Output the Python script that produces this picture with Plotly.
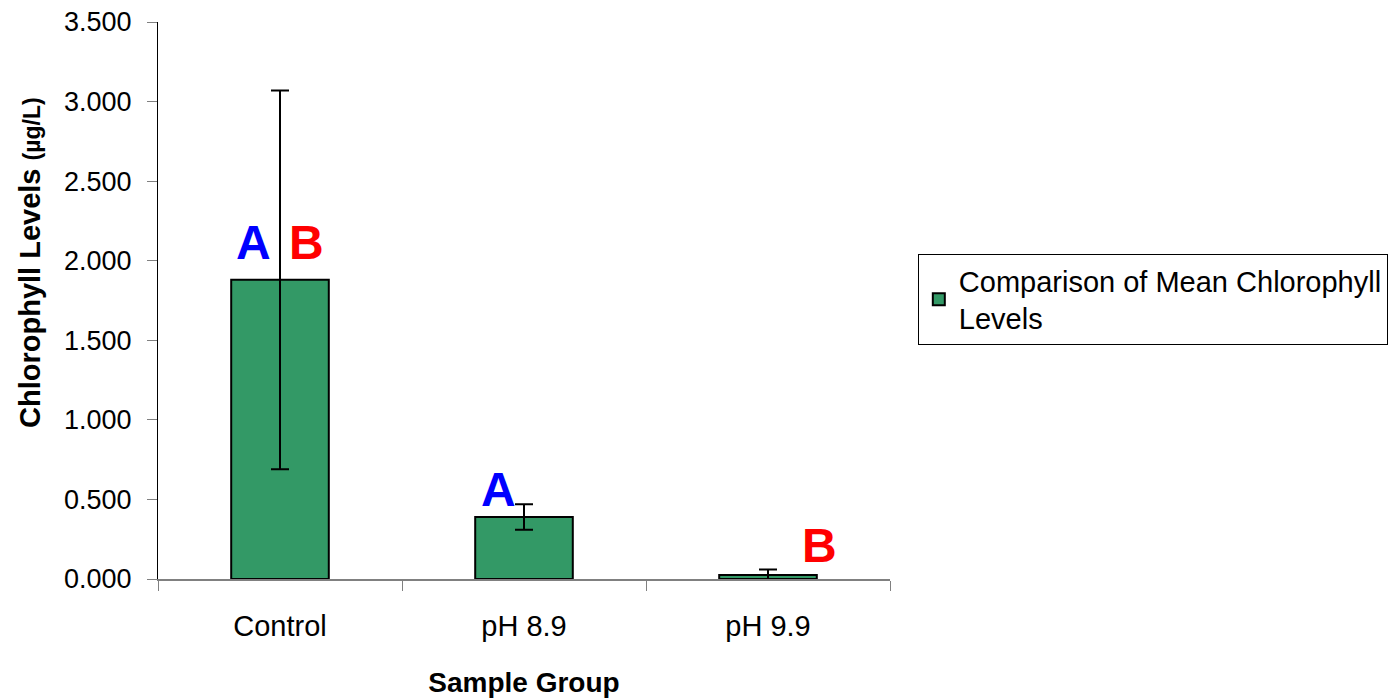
import plotly.graph_objects as go

categories = ["Control", "pH 8.9", "pH 9.9"]
means = [1.880, 0.390, 0.025]
errors = [1.190, 0.080, 0.035]
series_name = "Comparison of Mean Chlorophyll<br>Levels"
y_ticks = [0, 0.5, 1.0, 1.5, 2.0, 2.5, 3.0, 3.5]
letters = [("Control", "A", "blue", 2.115, -27), ("Control", "B", "red", 2.115, 26),
           ("pH 8.9", "A", "blue", 0.56, -26), ("pH 9.9", "B", "red", 0.21, 51)]
y_title = "<b>Chlorophyll Levels <span style='font-size:23px'>(µg/L)</span></b>"
x_title = "<b>Sample Group</b>"

FONT = "Liberation Sans, Arial, sans-serif"

fig = go.Figure()
fig.add_trace(go.Bar(
    x=categories, y=means, name=series_name, width=0.4,
    marker=dict(color="#339966", line=dict(color="black", width=2)),
    error_y=dict(type="data", array=errors, visible=True, color="black", thickness=2, width=9),
    showlegend=True,
))

for cat, txt, col, yv, xs in letters:
    fig.add_annotation(x=cat, y=yv, xref="x", yref="y", text=f"<b>{txt}</b>", showarrow=False,
                       xshift=xs, font=dict(family=FONT, size=48, color=col), yanchor="middle")

# y-axis title placed as a rotated annotation (offset upward like the reference)
fig.add_annotation(x=-0.175, y=0.569, xref="paper", yref="paper", text=y_title, showarrow=False,
                   textangle=-90, xanchor="center", yanchor="middle",
                   font=dict(family=FONT, size=29, color="black"))

fig.update_layout(
    width=1388, height=692,
    margin=dict(l=150, r=506, t=14, b=121, autoexpand=False),
    plot_bgcolor="white", paper_bgcolor="white",
    font=dict(family=FONT, size=26, color="black"),
    showlegend=True,
    legend=dict(x=1.038, y=0.5835, xanchor="left", yanchor="top",
                bordercolor="black", borderwidth=1, bgcolor="white",
                font=dict(family=FONT, size=29, color="black"), itemwidth=30),
)
fig.update_xaxes(
    type="category", automargin=False, showline=True, linecolor="#808080", linewidth=2,
    ticks="outside", tickson="boundaries", ticklen=10, tickcolor="#808080",
    ticklabelstandoff=20,
    showgrid=False,
    title=dict(text=x_title, font=dict(family=FONT, size=28), standoff=32),
    tickfont=dict(family=FONT, size=29),
)
fig.update_yaxes(
    range=[0, 3.5], tickvals=y_ticks, tickformat=".3f", automargin=False,
    showline=True, linecolor="black", linewidth=1, ticks="outside", ticklen=10, tickcolor="#808080",
    ticklabelstandoff=10, ticklabeloverflow="allow",
    showgrid=False, zeroline=False,
    tickfont=dict(family=FONT, size=27),
)

fig.write_html("out.html")
